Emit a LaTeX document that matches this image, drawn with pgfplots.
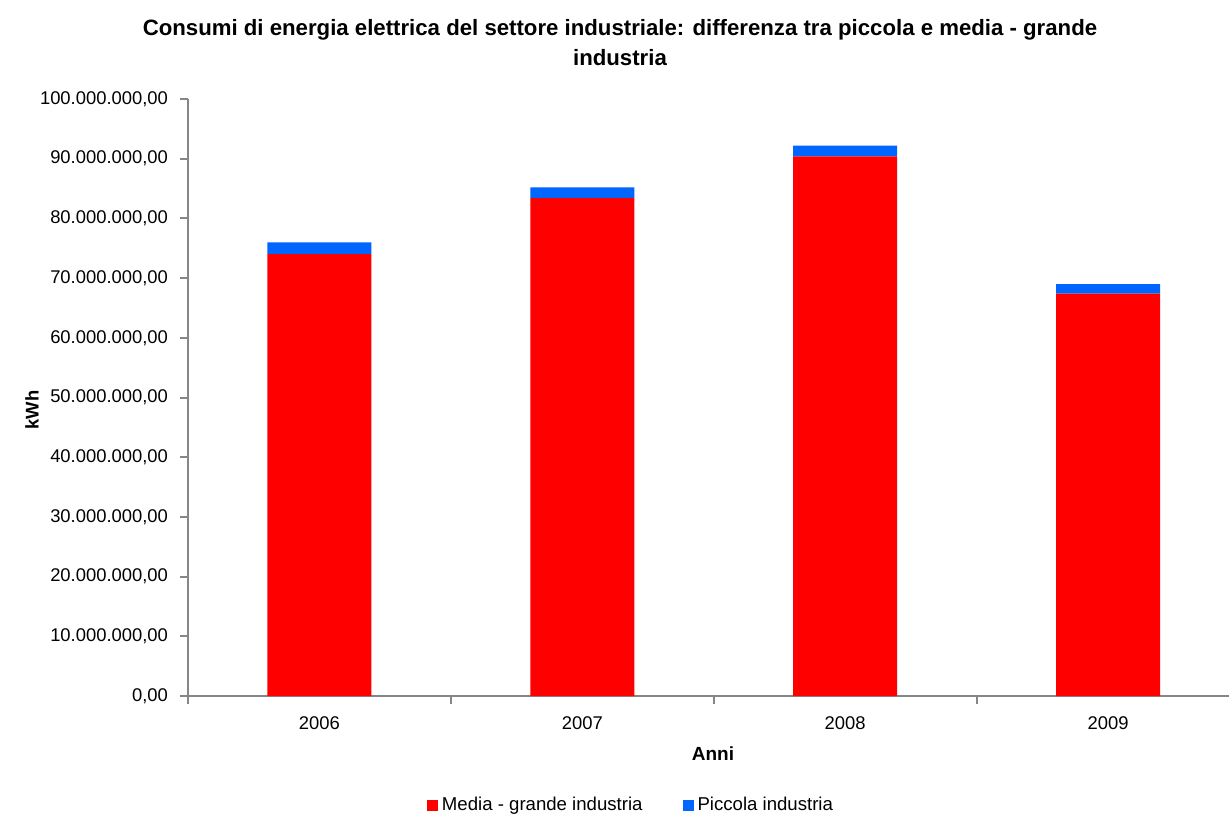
\documentclass[border=0pt]{standalone}
\usepackage{pgfplots}
\pgfplotsset{compat=1.18}
\usepackage{fontspec}
\setmainfont{Liberation Sans}
\definecolor{barred}{HTML}{FF0000}
\definecolor{barblue}{HTML}{0066FF}
\definecolor{axgray}{HTML}{868686}
\begin{document}
\begin{tikzpicture}
\path[use as bounding box] (-94pt,-60pt) rectangle (521.5pt,348pt);
\begin{axis}[
  at={(0,0)}, anchor=south west,
  width=520.5pt, height=298.5pt, scale only axis,
  ybar stacked, bar width=52pt,
  xmin=-0.5, xmax=3.46, ymin=0, ymax=100000000,
  axis x line*=bottom, axis y line*=left,
  axis line style={draw=axgray, line width=1pt},
  every axis plot/.append style={draw=none},
  xtick={0,1,2,3}, xticklabels={2006,2007,2008,2009},
  xtick style={draw=none},
  extra x ticks={-0.5,0.5,1.5,2.5}, extra x tick labels={},
  extra x tick style={xtick style={draw=axgray, line width=1pt}, tick align=outside, major tick length=4pt},
  ytick={0,10000000,...,100000000},
  ytick style={draw=axgray, line width=1pt},
  tick align=outside, major tick length=4pt,
  scaled y ticks=false,
  yticklabel style={xshift=-2.5pt, /pgf/number format/.cd, fixed, fixed zerofill, precision=2, 1000 sep={.}, dec sep={,}, assume math mode=true},
  ticklabel style={font=\fontsize{9.2}{11}\selectfont},
  xticklabel style={yshift=-3pt},
  legend style={at={(222pt,-54.5pt)}, anchor=center, draw=none, legend columns=2, font=\fontsize{9.3}{11}\selectfont, /tikz/every even column/.append style={column sep=18pt}},
  legend image code/.code={\fill[#1] (1pt,-3pt) rectangle (6.5pt,2.5pt);},
]
\addplot[fill=barred] coordinates {(0,74000000) (1,83400000) (2,90400000) (3,67400000)};
\addplot[fill=barblue] coordinates {(0,2000000) (1,1800000) (2,1800000) (3,1600000)};
\legend{Media - grande industria, Piccola industria}
\end{axis}
\node[align=center, font=\bfseries\fontsize{11.1}{15}\selectfont] at (216pt,326.5pt) {Consumi di energia elettrica del settore industriale: differenza tra piccola e media - grande\\industria};
\node[rotate=90, font=\bfseries\fontsize{9.2}{11}\selectfont] at (-78pt,143pt) {kWh};
\node[font=\bfseries\fontsize{9.5}{11}\selectfont] at (262.5pt,-29pt) {Anni};
\end{tikzpicture}
\end{document}
